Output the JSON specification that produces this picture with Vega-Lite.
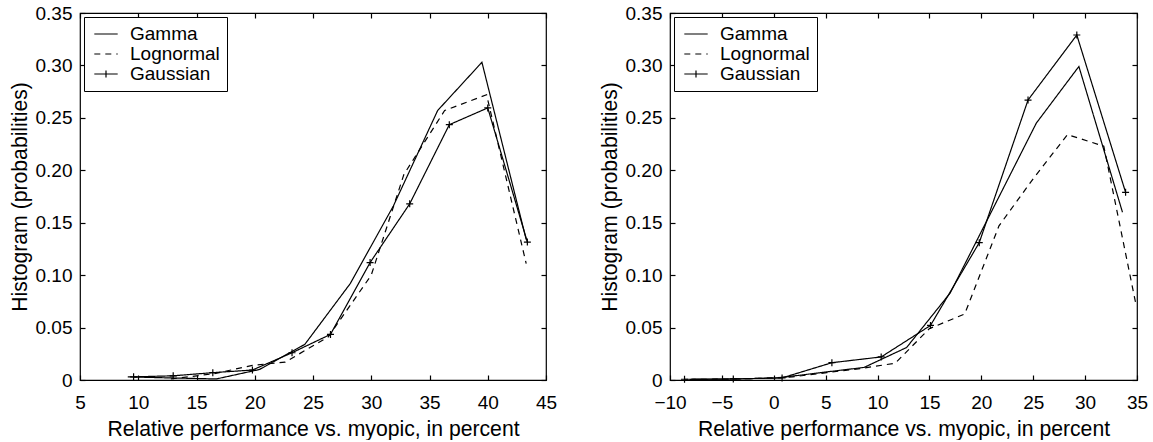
{
  "$schema": "https://vega.github.io/schema/vega-lite/v6.json",
  "padding": {"left": 8, "top": 3, "right": 0, "bottom": 0},
  "background": "white",
  "config": {
    "font": "Liberation Sans",
    "view": {"stroke": "black", "strokeWidth": 1.2},
    "axis": {"grid": false, "domain": false, "offset": -5, "tickSize": 5, "labelFlush": false, "tickColor": "black", "tickWidth": 1.2, "labelColor": "black", "titleColor": "black", "labelFont": "Liberation Sans", "titleFont": "Liberation Sans", "labelFontSize": 19, "titleFontSize": 21.2, "titleFontWeight": "normal"},
    "legend": {"labelFont": "Liberation Sans", "labelFontSize": 19, "labelColor": "black"}
  },
  "datasets": {
    "pts": [
      {"panel": "A", "series": "Gamma", "x": 9.1, "y": 0.003},
      {"panel": "A", "series": "Gamma", "x": 12.7, "y": 0.002},
      {"panel": "A", "series": "Gamma", "x": 16.7, "y": 0.001},
      {"panel": "A", "series": "Gamma", "x": 20.4, "y": 0.010},
      {"panel": "A", "series": "Gamma", "x": 24.3, "y": 0.034},
      {"panel": "A", "series": "Gamma", "x": 28.2, "y": 0.092},
      {"panel": "A", "series": "Gamma", "x": 31.9, "y": 0.166},
      {"panel": "A", "series": "Gamma", "x": 35.7, "y": 0.257},
      {"panel": "A", "series": "Gamma", "x": 39.5, "y": 0.303},
      {"panel": "A", "series": "Gamma", "x": 43.3, "y": 0.134},
      {"panel": "A", "series": "Lognormal", "x": 12.8, "y": 0.001},
      {"panel": "A", "series": "Lognormal", "x": 16.5, "y": 0.006},
      {"panel": "A", "series": "Lognormal", "x": 19.8, "y": 0.014},
      {"panel": "A", "series": "Lognormal", "x": 22.6, "y": 0.017},
      {"panel": "A", "series": "Lognormal", "x": 26.3, "y": 0.041},
      {"panel": "A", "series": "Lognormal", "x": 30.0, "y": 0.100},
      {"panel": "A", "series": "Lognormal", "x": 32.8, "y": 0.196},
      {"panel": "A", "series": "Lognormal", "x": 36.3, "y": 0.257},
      {"panel": "A", "series": "Lognormal", "x": 39.9, "y": 0.272},
      {"panel": "A", "series": "Lognormal", "x": 43.3, "y": 0.111},
      {"panel": "A", "series": "Gaussian", "x": 9.6, "y": 0.003},
      {"panel": "A", "series": "Gaussian", "x": 13.0, "y": 0.004},
      {"panel": "A", "series": "Gaussian", "x": 16.4, "y": 0.007},
      {"panel": "A", "series": "Gaussian", "x": 19.8, "y": 0.0095},
      {"panel": "A", "series": "Gaussian", "x": 23.2, "y": 0.026},
      {"panel": "A", "series": "Gaussian", "x": 26.5, "y": 0.0435},
      {"panel": "A", "series": "Gaussian", "x": 29.9, "y": 0.112},
      {"panel": "A", "series": "Gaussian", "x": 33.3, "y": 0.168},
      {"panel": "A", "series": "Gaussian", "x": 36.7, "y": 0.2435},
      {"panel": "A", "series": "Gaussian", "x": 40.0, "y": 0.2595},
      {"panel": "A", "series": "Gaussian", "x": 43.4, "y": 0.1315},
      {"panel": "B", "series": "Gamma", "x": -7.9, "y": 0.0005},
      {"panel": "B", "series": "Gamma", "x": -3.8, "y": 0.001},
      {"panel": "B", "series": "Gamma", "x": 0.4, "y": 0.002},
      {"panel": "B", "series": "Gamma", "x": 4.5, "y": 0.007},
      {"panel": "B", "series": "Gamma", "x": 8.7, "y": 0.012},
      {"panel": "B", "series": "Gamma", "x": 12.8, "y": 0.031},
      {"panel": "B", "series": "Gamma", "x": 17.0, "y": 0.083},
      {"panel": "B", "series": "Gamma", "x": 21.1, "y": 0.163},
      {"panel": "B", "series": "Gamma", "x": 25.3, "y": 0.245},
      {"panel": "B", "series": "Gamma", "x": 29.4, "y": 0.299},
      {"panel": "B", "series": "Gamma", "x": 33.6, "y": 0.160},
      {"panel": "B", "series": "Lognormal", "x": -8.1, "y": 0.0005},
      {"panel": "B", "series": "Lognormal", "x": -4.8, "y": 0.0008},
      {"panel": "B", "series": "Lognormal", "x": -1.5, "y": 0.0015},
      {"panel": "B", "series": "Lognormal", "x": 1.8, "y": 0.003},
      {"panel": "B", "series": "Lognormal", "x": 5.1, "y": 0.007},
      {"panel": "B", "series": "Lognormal", "x": 8.4, "y": 0.011},
      {"panel": "B", "series": "Lognormal", "x": 11.7, "y": 0.016},
      {"panel": "B", "series": "Lognormal", "x": 15.0, "y": 0.049},
      {"panel": "B", "series": "Lognormal", "x": 18.4, "y": 0.063},
      {"panel": "B", "series": "Lognormal", "x": 21.7, "y": 0.147},
      {"panel": "B", "series": "Lognormal", "x": 25.0, "y": 0.192},
      {"panel": "B", "series": "Lognormal", "x": 28.3, "y": 0.234},
      {"panel": "B", "series": "Lognormal", "x": 31.8, "y": 0.223},
      {"panel": "B", "series": "Lognormal", "x": 34.9, "y": 0.072},
      {"panel": "B", "series": "Gaussian", "x": -8.6, "y": 0.0007},
      {"panel": "B", "series": "Gaussian", "x": -3.9, "y": 0.001},
      {"panel": "B", "series": "Gaussian", "x": 0.8, "y": 0.002},
      {"panel": "B", "series": "Gaussian", "x": 5.6, "y": 0.0165},
      {"panel": "B", "series": "Gaussian", "x": 10.35, "y": 0.022},
      {"panel": "B", "series": "Gaussian", "x": 15.1, "y": 0.052},
      {"panel": "B", "series": "Gaussian", "x": 19.8, "y": 0.131},
      {"panel": "B", "series": "Gaussian", "x": 24.5, "y": 0.267},
      {"panel": "B", "series": "Gaussian", "x": 29.2, "y": 0.329},
      {"panel": "B", "series": "Gaussian", "x": 33.9, "y": 0.179}
    ]
  },
  "spacing": 40,
  "hconcat": [
    {
      "width": 466,
      "height": 367,
      "data": {"name": "pts"},
      "transform": [{"filter": "datum.panel === 'A'"}],
      "layer": [
        {
          "mark": {"type": "line", "stroke": "black", "strokeWidth": 1.2, "clip": true},
          "encoding": {
            "x": {"field": "x", "type": "quantitative", "scale": {"domain": [5, 45], "nice": false, "zero": false}, "axis": {"orient": "bottom", "values": [5, 10, 15, 20, 25, 30, 35, 40, 45], "title": "Relative performance vs. myopic, in percent", "labelPadding": 13, "titlePadding": 6}},
            "y": {"field": "y", "type": "quantitative", "scale": {"domain": [0, 0.35], "nice": false}, "axis": {"orient": "left", "values": [0, 0.05, 0.1, 0.15, 0.2, 0.25, 0.3, 0.35], "labelExpr": "datum.value === 0 ? '0' : format(datum.value, '.2f')", "title": "Histogram (probabilities)", "labelPadding": 8, "titlePadding": 5}},
            "strokeDash": {"field": "series", "type": "nominal", "scale": {"domain": ["Gamma", "Lognormal", "Gaussian"], "range": [[1, 0], [6, 5], [1, 0]]},
              "legend": {"orient": "top-left", "offset": 4, "title": null, "strokeColor": "black", "fillColor": "white", "padding": 7, "rowPadding": 0, "symbolSize": 350, "symbolOffset": 5, "symbolStrokeWidth": 1.2, "symbolStrokeColor": "black", "labelOffset": 14, "labelFontSize": 19,
                "encode": {"symbols": {"update": {"shape": {"signal": "datum.value === 'Gaussian' ? 'M-1.25,0H1.25M0,-0.38V0.38' : 'M-1.25,0H1.25'"}, "stroke": {"value": "black"}, "strokeWidth": {"value": 1.2}}}}}}
          }
        },
        {
          "transform": [{"filter": "datum.series === 'Gaussian'"}],
          "mark": {"type": "point", "shape": "M-1,0H1M0,-1V1", "size": 49, "stroke": "black", "strokeWidth": 1.2, "filled": false, "opacity": 1},
          "encoding": {
            "x": {"field": "x", "type": "quantitative", "axis": {"orient": "top", "values": [5, 10, 15, 20, 25, 30, 35, 40, 45], "labels": false, "title": null}},
            "y": {"field": "y", "type": "quantitative", "axis": {"orient": "right", "values": [0, 0.05, 0.1, 0.15, 0.2, 0.25, 0.3, 0.35], "labels": false, "title": null}}
          }
        }
      ],
      "resolve": {"axis": {"x": "independent", "y": "independent"}}
    },
    {
      "width": 467,
      "height": 367,
      "data": {"name": "pts"},
      "transform": [{"filter": "datum.panel === 'B'"}],
      "layer": [
        {
          "mark": {"type": "line", "stroke": "black", "strokeWidth": 1.2, "clip": true},
          "encoding": {
            "x": {"field": "x", "type": "quantitative", "scale": {"domain": [-10, 35], "nice": false, "zero": false}, "axis": {"orient": "bottom", "values": [-10, -5, 0, 5, 10, 15, 20, 25, 30, 35], "title": "Relative performance vs. myopic, in percent", "labelPadding": 13, "titlePadding": 6}},
            "y": {"field": "y", "type": "quantitative", "scale": {"domain": [0, 0.35], "nice": false}, "axis": {"orient": "left", "values": [0, 0.05, 0.1, 0.15, 0.2, 0.25, 0.3, 0.35], "labelExpr": "datum.value === 0 ? '0' : format(datum.value, '.2f')", "title": "Histogram (probabilities)", "labelPadding": 8, "titlePadding": 5}},
            "strokeDash": {"field": "series", "type": "nominal", "scale": {"domain": ["Gamma", "Lognormal", "Gaussian"], "range": [[1, 0], [6, 5], [1, 0]]},
              "legend": {"orient": "top-left", "offset": 4, "title": null, "strokeColor": "black", "fillColor": "white", "padding": 7, "rowPadding": 0, "symbolSize": 350, "symbolOffset": 5, "symbolStrokeWidth": 1.2, "symbolStrokeColor": "black", "labelOffset": 14, "labelFontSize": 19,
                "encode": {"symbols": {"update": {"shape": {"signal": "datum.value === 'Gaussian' ? 'M-1.25,0H1.25M0,-0.38V0.38' : 'M-1.25,0H1.25'"}, "stroke": {"value": "black"}, "strokeWidth": {"value": 1.2}}}}}}
          }
        },
        {
          "transform": [{"filter": "datum.series === 'Gaussian'"}],
          "mark": {"type": "point", "shape": "M-1,0H1M0,-1V1", "size": 49, "stroke": "black", "strokeWidth": 1.2, "filled": false, "opacity": 1},
          "encoding": {
            "x": {"field": "x", "type": "quantitative", "axis": {"orient": "top", "values": [-10, -5, 0, 5, 10, 15, 20, 25, 30, 35], "labels": false, "title": null}},
            "y": {"field": "y", "type": "quantitative", "axis": {"orient": "right", "values": [0, 0.05, 0.1, 0.15, 0.2, 0.25, 0.3, 0.35], "labels": false, "title": null}}
          }
        }
      ],
      "resolve": {"axis": {"x": "independent", "y": "independent"}}
    }
  ],
  "resolve": {"scale": {"strokeDash": "independent"}}
}
